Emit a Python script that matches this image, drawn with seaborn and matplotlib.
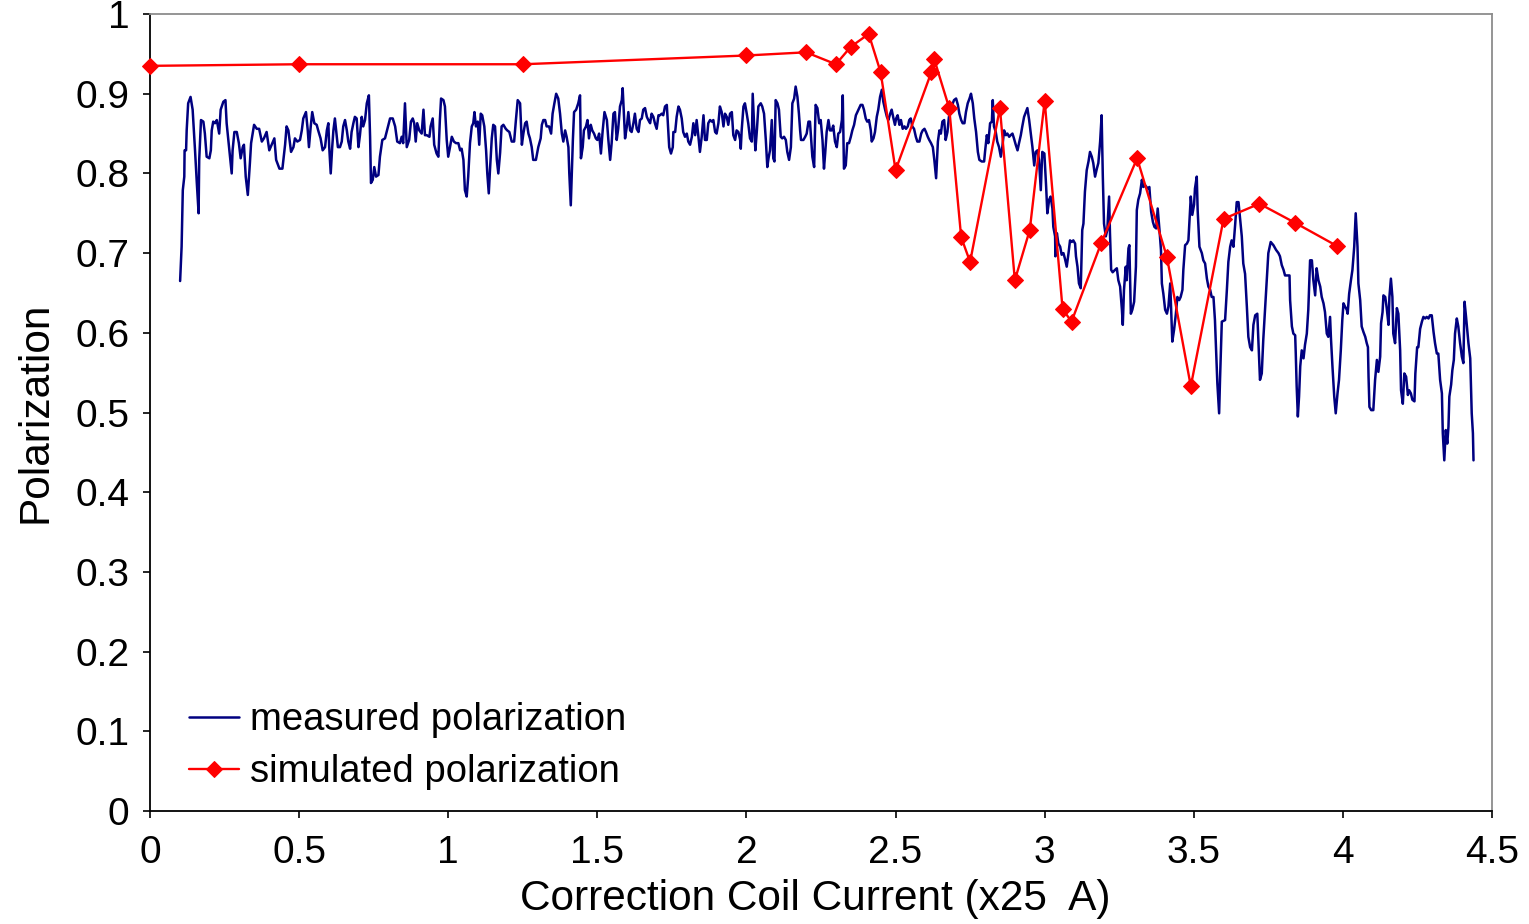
import matplotlib
matplotlib.use("Agg")
import matplotlib.pyplot as plt
import seaborn as sns
import pandas as pd

# ---------------- data ----------------
x_ticks = [0, 0.5, 1, 1.5, 2, 2.5, 3, 3.5, 4, 4.5]
x_tick_labels = ["0", "0.5", "1", "1.5", "2", "2.5", "3", "3.5", "4", "4.5"]
y_ticks = [0, 0.1, 0.2, 0.3, 0.4, 0.5, 0.6, 0.7, 0.8, 0.9, 1.0]
y_tick_labels = ["0", "0.1", "0.2", "0.3", "0.4", "0.5", "0.6", "0.7", "0.8", "0.9", "1"]

sim_x = [0.0, 0.5, 1.25, 2.0, 2.2, 2.3, 2.35, 2.41, 2.45, 2.5, 2.62, 2.63, 2.68, 2.72, 2.75,
         2.85, 2.9, 2.95, 3.0, 3.06, 3.09, 3.19, 3.31, 3.41, 3.49, 3.6, 3.72, 3.84, 3.98]
sim_y = [0.935, 0.937, 0.937, 0.948, 0.952, 0.937, 0.959, 0.975, 0.927, 0.804, 0.927, 0.943, 0.882,
         0.720, 0.689, 0.882, 0.666, 0.729, 0.891, 0.630, 0.614, 0.713, 0.819, 0.695, 0.533, 0.743,
         0.762, 0.738, 0.709]

meas_x = [
    0.101, 0.106, 0.110, 0.115, 0.116, 0.121, 0.123, 0.128, 0.136, 0.143,
    0.151, 0.157, 0.163, 0.165, 0.171, 0.179, 0.184, 0.190, 0.199, 0.204,
    0.207, 0.212, 0.218, 0.224, 0.232, 0.237, 0.246, 0.253, 0.257, 0.266,
    0.274, 0.277, 0.283, 0.291, 0.298, 0.304, 0.311, 0.315, 0.321, 0.328,
    0.335, 0.339, 0.349, 0.358, 0.366, 0.375, 0.382, 0.391, 0.400, 0.408,
    0.417, 0.423, 0.434, 0.444, 0.453,
    0.458, 0.464, 0.473, 0.481, 0.486, 0.494, 0.503, 0.509, 0.514, 0.523,
    0.529, 0.533, 0.539, 0.544, 0.551, 0.559, 0.564, 0.572, 0.579, 0.587,
    0.593, 0.598, 0.601, 0.606, 0.611, 0.615, 0.620, 0.626, 0.630, 0.637,
    0.643, 0.648, 0.654, 0.660, 0.665, 0.671, 0.676, 0.682, 0.687, 0.693,
    0.699, 0.704, 0.710, 0.715, 0.721, 0.727, 0.734, 0.738, 0.741, 0.747,
    0.752, 0.758, 0.766, 0.771, 0.779, 0.788, 0.796, 0.805,
    0.814, 0.822, 0.829, 0.838, 0.844, 0.849, 0.855, 0.861, 0.869, 0.875,
    0.881, 0.886, 0.891, 0.896, 0.903, 0.911, 0.917, 0.922, 0.928, 0.937,
    0.941, 0.948, 0.953, 0.961, 0.967, 0.972, 0.976, 0.984, 0.989, 0.995,
    1.000, 1.006, 1.012, 1.019, 1.026, 1.034, 1.040, 1.045, 1.051, 1.056,
    1.062, 1.067, 1.073, 1.079, 1.084, 1.088, 1.093, 1.099, 1.104, 1.109,
    1.114, 1.121, 1.127, 1.131, 1.136, 1.140, 1.146, 1.151, 1.157, 1.163,
    1.168, 1.174,
    1.179, 1.185, 1.193, 1.198, 1.205, 1.213, 1.221, 1.227, 1.233, 1.241,
    1.247, 1.252, 1.258, 1.263, 1.269, 1.274, 1.280, 1.285, 1.294, 1.302,
    1.310, 1.314, 1.319, 1.325, 1.330, 1.338, 1.345, 1.350, 1.356, 1.362,
    1.369, 1.375, 1.381, 1.386, 1.392, 1.397, 1.403, 1.406, 1.411, 1.414,
    1.418, 1.422, 1.429, 1.436, 1.442, 1.445, 1.451, 1.455, 1.462, 1.467,
    1.472, 1.478, 1.483, 1.489, 1.495, 1.500, 1.506, 1.512, 1.518, 1.524,
    1.532, 1.537, 1.543,
    1.548, 1.554, 1.559, 1.565, 1.570, 1.576, 1.582, 1.585, 1.590, 1.593,
    1.599, 1.604, 1.610, 1.615, 1.621, 1.626, 1.632, 1.638, 1.643, 1.649,
    1.654, 1.660, 1.666, 1.671, 1.677, 1.682, 1.688, 1.693, 1.699, 1.705,
    1.710, 1.716, 1.721, 1.727, 1.733, 1.738, 1.741, 1.747, 1.753, 1.755,
    1.761, 1.766, 1.772, 1.777, 1.783, 1.788, 1.794, 1.800, 1.805, 1.811,
    1.817, 1.822, 1.828, 1.833, 1.839, 1.844, 1.850, 1.856, 1.861, 1.867,
    1.872, 1.878, 1.884, 1.889, 1.895, 1.900, 1.906,
    1.911, 1.917, 1.923, 1.928, 1.934, 1.939, 1.945, 1.951, 1.956, 1.962,
    1.967, 1.973, 1.979, 1.981, 1.984, 1.990, 1.995, 2.001, 2.006, 2.012,
    2.018, 2.021, 2.027, 2.030, 2.035, 2.040, 2.048, 2.053, 2.059, 2.065,
    2.070, 2.074, 2.079, 2.085, 2.090, 2.094, 2.098, 2.104, 2.109, 2.115,
    2.120, 2.126, 2.132, 2.137, 2.143, 2.149, 2.154, 2.160, 2.165, 2.171,
    2.176, 2.180, 2.183, 2.191, 2.197, 2.202, 2.208, 2.213, 2.217, 2.221,
    2.227, 2.232, 2.238, 2.244, 2.249, 2.255, 2.260, 2.264, 2.269, 2.275,
    2.280,
    2.286, 2.291, 2.297, 2.303, 2.308, 2.314, 2.320, 2.323, 2.327, 2.333,
    2.338, 2.344, 2.350, 2.355, 2.361, 2.367, 2.372, 2.378, 2.383, 2.389,
    2.394, 2.400, 2.405, 2.411, 2.417, 2.420, 2.426, 2.431, 2.437, 2.442,
    2.448, 2.454, 2.459, 2.465, 2.471, 2.476, 2.482, 2.487, 2.493, 2.498,
    2.502, 2.507, 2.513, 2.518, 2.524, 2.530, 2.535, 2.541, 2.546, 2.551,
    2.556, 2.562, 2.568, 2.573, 2.580, 2.586, 2.591, 2.597, 2.602, 2.608,
    2.613, 2.619, 2.625, 2.630, 2.636, 2.642, 2.647,
    2.652, 2.657, 2.663, 2.668, 2.674, 2.679, 2.685, 2.690, 2.696, 2.703,
    2.709, 2.714, 2.720, 2.725, 2.731, 2.736, 2.742, 2.748, 2.753, 2.759,
    2.764, 2.770, 2.776, 2.781, 2.789, 2.797, 2.800, 2.806, 2.811, 2.817,
    2.823, 2.826, 2.830, 2.836, 2.841, 2.847, 2.853, 2.858, 2.864, 2.870,
    2.875, 2.881, 2.886, 2.892, 2.897, 2.903, 2.909, 2.914, 2.920, 2.925,
    2.931, 2.937, 2.942, 2.948, 2.953, 2.959, 2.965, 2.970, 2.976, 2.981,
    2.987, 2.992, 2.999,
    3.005, 3.009, 3.015, 3.020, 3.026, 3.029, 3.035, 3.036, 3.041, 3.046,
    3.052, 3.057, 3.063, 3.068, 3.074, 3.080, 3.085, 3.091, 3.096, 3.102,
    3.105, 3.110, 3.115, 3.121, 3.126, 3.130, 3.135, 3.141, 3.147, 3.152,
    3.158, 3.163, 3.169, 3.175, 3.180, 3.186, 3.191, 3.195, 3.199, 3.205,
    3.210, 3.216, 3.219, 3.223, 3.228, 3.236, 3.242, 3.247, 3.253, 3.259,
    3.262, 3.266, 3.272, 3.275, 3.281, 3.284, 3.289, 3.294, 3.300, 3.306,
    3.309, 3.314, 3.320, 3.326, 3.331, 3.337,
    3.346, 3.351, 3.357, 3.363, 3.368, 3.374, 3.379, 3.385, 3.390, 3.393,
    3.398, 3.404, 3.410, 3.415, 3.421, 3.424, 3.428, 3.434, 3.440, 3.445,
    3.451, 3.456, 3.462, 3.465, 3.471, 3.477, 3.482, 3.485, 3.490, 3.495,
    3.501, 3.504, 3.510, 3.513, 3.519, 3.527, 3.532, 3.538, 3.544, 3.549,
    3.555, 3.560, 3.566, 3.571, 3.575, 3.579, 3.585, 3.588, 3.594, 3.605,
    3.611, 3.616, 3.622, 3.627, 3.633, 3.639, 3.644, 3.650, 3.655, 3.661,
    3.666, 3.672, 3.678, 3.683, 3.689, 3.695, 3.700, 3.706,
    3.713, 3.717, 3.722, 3.728, 3.733, 3.739, 3.745, 3.750, 3.758, 3.767,
    3.776, 3.784, 3.789, 3.795, 3.801, 3.806, 3.814, 3.821, 3.823, 3.829,
    3.834, 3.840, 3.842, 3.845, 3.849, 3.853, 3.857, 3.862, 3.868, 3.873,
    3.879, 3.884, 3.890, 3.896, 3.901, 3.907, 3.912, 3.918, 3.924, 3.929,
    3.935, 3.940, 3.946, 3.951, 3.957, 3.960, 3.965, 3.971, 3.976, 3.982,
    3.987, 3.993, 3.998, 4.002, 4.007, 4.013, 4.016, 4.021, 4.027, 4.032,
    4.038, 4.043, 4.049,
    4.052, 4.058, 4.063, 4.069, 4.075, 4.080, 4.084, 4.086, 4.089, 4.095,
    4.102, 4.108, 4.114, 4.119, 4.125, 4.128, 4.133, 4.136, 4.142, 4.147,
    4.153, 4.156, 4.161, 4.166, 4.169, 4.175, 4.181, 4.186, 4.192, 4.195,
    4.201, 4.206, 4.212, 4.218, 4.222, 4.228, 4.233, 4.240, 4.243, 4.249,
    4.253, 4.259, 4.265, 4.270, 4.276, 4.281, 4.287, 4.292, 4.298, 4.304,
    4.309, 4.315, 4.320, 4.326, 4.332, 4.335, 4.340, 4.345, 4.350, 4.354,
    4.357, 4.363, 4.367, 4.372, 4.376, 4.382, 4.387, 4.393, 4.399, 4.404,
    4.408, 4.413, 4.421, 4.427, 4.432, 4.436, 4.438,
]

meas_y = [
    0.665, 0.708, 0.779, 0.796, 0.829, 0.829, 0.854, 0.888, 0.896, 0.880,
    0.829, 0.788, 0.750, 0.817, 0.867, 0.865, 0.850, 0.821, 0.819, 0.829,
    0.854, 0.865, 0.863, 0.867, 0.850, 0.880, 0.890, 0.892, 0.863, 0.829,
    0.800, 0.829, 0.852, 0.852, 0.838, 0.819, 0.833, 0.836, 0.796, 0.773,
    0.813, 0.838, 0.861, 0.856, 0.856, 0.840, 0.844, 0.852, 0.829, 0.836,
    0.844, 0.817, 0.806, 0.806, 0.836,
    0.859, 0.854, 0.827, 0.833, 0.844, 0.840, 0.842, 0.854, 0.869, 0.877,
    0.854, 0.833, 0.859, 0.877, 0.863, 0.861, 0.854, 0.844, 0.829, 0.833,
    0.854, 0.863, 0.833, 0.800, 0.833, 0.854, 0.869, 0.848, 0.833, 0.833,
    0.840, 0.859, 0.867, 0.854, 0.840, 0.831, 0.852, 0.863, 0.871, 0.869,
    0.833, 0.848, 0.871, 0.859, 0.867, 0.888, 0.898, 0.846, 0.788, 0.792,
    0.808, 0.796, 0.798, 0.821, 0.842, 0.844, 0.856, 0.869,
    0.869, 0.859, 0.840, 0.838, 0.846, 0.838, 0.888, 0.833, 0.842, 0.865,
    0.869, 0.863, 0.840, 0.863, 0.854, 0.850, 0.880, 0.848, 0.848, 0.846,
    0.859, 0.869, 0.836, 0.825, 0.821, 0.867, 0.894, 0.892, 0.884, 0.842,
    0.821, 0.833, 0.846, 0.840, 0.838, 0.838, 0.829, 0.831, 0.817, 0.779,
    0.771, 0.796, 0.838, 0.859, 0.863, 0.877, 0.859, 0.865, 0.836, 0.875,
    0.873, 0.859, 0.829, 0.800, 0.775, 0.804, 0.844, 0.861, 0.859, 0.817,
    0.800, 0.826,
    0.859, 0.861, 0.856, 0.854, 0.852, 0.840, 0.840, 0.867, 0.892, 0.888,
    0.836, 0.850, 0.863, 0.865, 0.850, 0.844, 0.833, 0.817, 0.817, 0.833,
    0.844, 0.861, 0.867, 0.867, 0.859, 0.859, 0.850, 0.875, 0.888, 0.900,
    0.894, 0.875, 0.850, 0.840, 0.854, 0.846, 0.833, 0.800, 0.760, 0.796,
    0.842, 0.877, 0.880, 0.888, 0.898, 0.819, 0.833, 0.854, 0.859, 0.867,
    0.844, 0.861, 0.854, 0.850, 0.844, 0.842, 0.850, 0.825, 0.854, 0.877,
    0.867, 0.842, 0.817,
    0.838, 0.875, 0.877, 0.842, 0.856, 0.884, 0.892, 0.907, 0.867, 0.844,
    0.859, 0.877, 0.854, 0.852, 0.863, 0.875, 0.856, 0.852, 0.867, 0.869,
    0.880, 0.882, 0.871, 0.867, 0.863, 0.875, 0.871, 0.863, 0.856, 0.873,
    0.873, 0.875, 0.873, 0.884, 0.886, 0.854, 0.833, 0.825, 0.833, 0.852,
    0.852, 0.871, 0.884, 0.880, 0.869, 0.852, 0.846, 0.850, 0.840, 0.836,
    0.846, 0.863, 0.848, 0.867, 0.846, 0.827, 0.846, 0.873, 0.842, 0.842,
    0.863, 0.867, 0.865, 0.867, 0.852, 0.850, 0.863,
    0.884, 0.877, 0.859, 0.875, 0.871, 0.861, 0.875, 0.877, 0.848, 0.842,
    0.854, 0.852, 0.842, 0.831, 0.854, 0.884, 0.888, 0.875, 0.863, 0.844,
    0.840, 0.900, 0.850, 0.829, 0.854, 0.884, 0.888, 0.884, 0.875, 0.842,
    0.808, 0.819, 0.829, 0.867, 0.819, 0.815, 0.892, 0.888, 0.880, 0.846,
    0.844, 0.846, 0.842, 0.827, 0.817, 0.833, 0.888, 0.894, 0.909, 0.896,
    0.875, 0.854, 0.842, 0.842, 0.846, 0.850, 0.865, 0.865, 0.842, 0.821,
    0.808, 0.886, 0.882, 0.863, 0.867, 0.842, 0.806, 0.825, 0.852, 0.867,
    0.854,
    0.854, 0.860, 0.840, 0.833, 0.850, 0.852, 0.867, 0.898, 0.806, 0.810,
    0.838, 0.838, 0.846, 0.854, 0.861, 0.873, 0.877, 0.882, 0.886, 0.886,
    0.880, 0.869, 0.865, 0.867, 0.854, 0.840, 0.844, 0.852, 0.871, 0.880,
    0.896, 0.905, 0.890, 0.880, 0.871, 0.867, 0.875, 0.880, 0.869, 0.861,
    0.869, 0.873, 0.861, 0.867, 0.856, 0.859, 0.856, 0.859, 0.867, 0.869,
    0.859, 0.856, 0.846, 0.840, 0.840, 0.850, 0.854, 0.856, 0.852, 0.846,
    0.842, 0.838, 0.833, 0.817, 0.794, 0.840, 0.854,
    0.850, 0.865, 0.867, 0.842, 0.852, 0.871, 0.877, 0.886, 0.892, 0.894,
    0.886, 0.875, 0.867, 0.863, 0.863, 0.877, 0.888, 0.894, 0.900, 0.888,
    0.869, 0.852, 0.827, 0.817, 0.815, 0.815, 0.827, 0.848, 0.838, 0.863,
    0.865, 0.892, 0.859, 0.852, 0.840, 0.833, 0.821, 0.833, 0.854, 0.848,
    0.850, 0.846, 0.848, 0.850, 0.844, 0.836, 0.829, 0.838, 0.848, 0.859,
    0.871, 0.877, 0.882, 0.867, 0.852, 0.833, 0.810, 0.827, 0.829, 0.817,
    0.779, 0.827, 0.825,
    0.783, 0.750, 0.767, 0.771, 0.756, 0.733, 0.721, 0.696, 0.725, 0.712,
    0.708, 0.698, 0.700, 0.693, 0.683, 0.700, 0.716, 0.714, 0.716, 0.712,
    0.696, 0.683, 0.662, 0.656, 0.729, 0.737, 0.777, 0.804, 0.815, 0.827,
    0.821, 0.813, 0.796, 0.806, 0.813, 0.840, 0.873, 0.796, 0.737, 0.721,
    0.729, 0.771, 0.725, 0.679, 0.676, 0.679, 0.681, 0.666, 0.658, 0.629,
    0.610, 0.654, 0.683, 0.666, 0.706, 0.710, 0.624, 0.629, 0.639, 0.683,
    0.754, 0.767, 0.775, 0.792, 0.783, 0.785,
    0.781, 0.783, 0.752, 0.739, 0.733, 0.731, 0.756, 0.729, 0.704, 0.662,
    0.649, 0.629, 0.624, 0.633, 0.662, 0.629, 0.589, 0.604, 0.624, 0.645,
    0.641, 0.645, 0.654, 0.679, 0.710, 0.712, 0.716, 0.737, 0.771, 0.748,
    0.761, 0.781, 0.796, 0.754, 0.708, 0.700, 0.691, 0.687, 0.668, 0.658,
    0.654, 0.645, 0.645, 0.616, 0.578, 0.537, 0.499, 0.541, 0.614, 0.616,
    0.654, 0.689, 0.708, 0.716, 0.708, 0.737, 0.764, 0.764, 0.745, 0.721,
    0.687, 0.674, 0.633, 0.595, 0.582, 0.578, 0.610, 0.622,
    0.624, 0.587, 0.541, 0.549, 0.591, 0.629, 0.666, 0.700, 0.714, 0.710,
    0.704, 0.700, 0.696, 0.685, 0.679, 0.672, 0.672, 0.672, 0.641, 0.608,
    0.599, 0.597, 0.574, 0.533, 0.495, 0.520, 0.558, 0.578, 0.568, 0.585,
    0.599, 0.629, 0.691, 0.691, 0.666, 0.647, 0.681, 0.666, 0.658, 0.645,
    0.637, 0.626, 0.599, 0.595, 0.620, 0.593, 0.558, 0.520, 0.499, 0.524,
    0.541, 0.578, 0.616, 0.637, 0.633, 0.629, 0.624, 0.649, 0.666, 0.679,
    0.708, 0.750, 0.708,
    0.662, 0.641, 0.608, 0.601, 0.595, 0.587, 0.582, 0.545, 0.507, 0.503,
    0.503, 0.541, 0.566, 0.551, 0.570, 0.612, 0.626, 0.647, 0.645, 0.631,
    0.610, 0.645, 0.668, 0.645, 0.599, 0.587, 0.631, 0.624, 0.578, 0.528,
    0.511, 0.549, 0.545, 0.522, 0.528, 0.524, 0.516, 0.514, 0.549, 0.582,
    0.582, 0.605, 0.614, 0.620, 0.618, 0.620, 0.618, 0.622, 0.622, 0.601,
    0.587, 0.574, 0.574, 0.541, 0.524, 0.474, 0.440, 0.478, 0.461, 0.482,
    0.520, 0.535, 0.553, 0.566, 0.599, 0.618, 0.608, 0.587, 0.570, 0.562,
    0.639, 0.620, 0.587, 0.568, 0.499, 0.474, 0.440,
]

# ---------------- plot ----------------
sns.set_theme(style="white")
plt.rcParams["font.family"] = ["Liberation Sans", "DejaVu Sans"]
plt.rcParams["text.color"] = "black"
plt.rcParams["axes.labelcolor"] = "black"
plt.rcParams["xtick.color"] = "black"
plt.rcParams["ytick.color"] = "black"

n = min(len(meas_x), len(meas_y))
meas_df = pd.DataFrame({"x": meas_x[:n], "y": meas_y[:n]})
sim_df = pd.DataFrame({"x": sim_x, "y": sim_y})

fig = plt.figure(figsize=(15.29, 9.24), dpi=100)
ax = fig.add_axes([0.0981, 0.1223, 0.8777, 0.8625])

sns.lineplot(data=meas_df, x="x", y="y", sort=False, estimator=None,
             color="#000080", linewidth=1.8, label="measured polarization", ax=ax)
sns.lineplot(data=sim_df, x="x", y="y", sort=False, estimator=None,
             color="#FF0000", linewidth=1.7, marker="D", markersize=8.5,
             markeredgecolor="#FF0000", markerfacecolor="#FF0000",
             label="simulated polarization", ax=ax, clip_on=False, zorder=5)

ax.set_xlim(0, 4.5)
ax.set_ylim(0, 1)
ax.set_xticks(x_ticks)
ax.set_xticklabels(x_tick_labels)
ax.set_yticks(y_ticks)
ax.set_yticklabels(y_tick_labels)
ax.tick_params(axis="both", which="major", labelsize=28, direction="out",
               length=5, width=1.2, color="black", labelcolor="black")
ax.tick_params(axis="x", bottom=True, top=False, pad=12)
ax.tick_params(axis="y", left=True, right=False, pad=10)

ax.set_xlabel("Correction Coil Current (x25  A)", fontsize=30.5, labelpad=7, color="black")
ax.set_ylabel("Polarization", fontsize=30.5, labelpad=14, color="black")
ax.xaxis.set_label_coords(0.4955, -0.085)

for side in ["left", "bottom"]:
    ax.spines[side].set_color("black")
    ax.spines[side].set_linewidth(1.3)
for side in ["top", "right"]:
    ax.spines[side].set_color("#8c8c8c")
    ax.spines[side].set_linewidth(1.3)
ax.grid(False)

leg = ax.legend(loc="lower left", bbox_to_anchor=(0.0134, 0.0), frameon=False,
                fontsize=27.5, handlelength=1.32, handletextpad=0.3,
                labelspacing=0.42, borderaxespad=0.14, borderpad=0.4)
for t in leg.get_texts():
    t.set_color("black")

fig.savefig("out.png", dpi=100, facecolor="white")
